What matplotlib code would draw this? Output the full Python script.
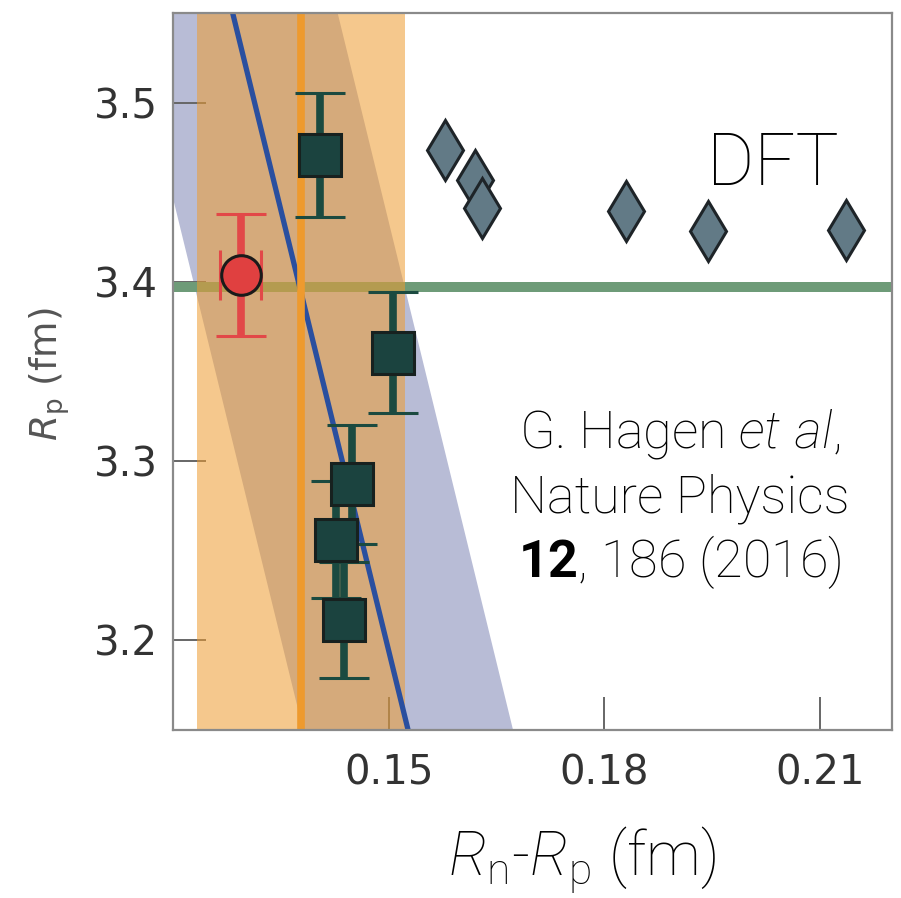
import numpy as np
import matplotlib
matplotlib.use("Agg")
import matplotlib.pyplot as plt

# experiment (red circle): Rn-Rp, Rp
exp_x = [0.1294]
exp_y = [3.404]
exp_xerr = [0.0028]
exp_yerr = [0.034]

# ab initio (dark squares)
cc_x = [0.1404, 0.1506, 0.1449, 0.1427, 0.1438]
cc_y = [3.4708, 3.3604, 3.2870, 3.2563, 3.2115]
cc_yerr = [0.0345, 0.0337, 0.0330, 0.0325, 0.0325]

# DFT (diamonds)
dft_x = [0.1578, 0.1620, 0.1630, 0.1830, 0.1944, 0.2136]
dft_y = [3.4736, 3.4569, 3.4411, 3.4396, 3.4284, 3.4290]

# bands / lines
rp_exp = 3.397
skin_center, skin_half = 0.1378, 0.0145
corr_x0, corr_y0, corr_slope, corr_half = 0.1527, 3.15, -0.061, 0.0146

xticks = [0.15, 0.18, 0.21]
yticks = [3.2, 3.3, 3.4, 3.5]

plt.rcParams['font.family'] = ['Liberation Sans Narrow', 'DejaVu Sans']
plt.rcParams['mathtext.fontset'] = 'custom'
plt.rcParams['mathtext.rm'] = 'Roboto:light'
plt.rcParams['mathtext.it'] = 'Roboto:italic:light'
plt.rcParams['mathtext.bf'] = 'Roboto:bold'

fig = plt.figure(figsize=(9.01, 8.98), dpi=100)
ax = fig.add_axes([0.192, 0.187, 0.798, 0.7985])

ys = np.linspace(3.0, 3.7, 50)
corr = corr_x0 + corr_slope * (ys - corr_y0)

# correlation band (lavender)
ax.fill_betweenx(ys, corr - corr_half, corr + corr_half, color='#b8bcd6', lw=0, zorder=1)
# experimental Rp (green)
ax.axhline(rp_exp, color='#6e9b78', lw=7.2, zorder=2)
# skin band (orange, translucent)
ax.axvspan(skin_center - skin_half, skin_center + skin_half, color='#ee9c30', alpha=0.55, lw=0, zorder=3)
# correlation line
ax.plot(corr, ys, color='#2a4f9f', lw=3.8, zorder=4)
# skin central value
ax.axvline(skin_center, color='#ee9a2e', lw=5.5, zorder=5)

# data
ax.errorbar(cc_x, cc_y, yerr=cc_yerr, fmt='s', ms=30, mfc='#1b433f', mec='#17211f', mew=2.2,
            ecolor='#1b4a40', elinewidth=5.5, capsize=18, capthick=3.0, zorder=6)
ax.errorbar(exp_x, exp_y, xerr=exp_xerr, yerr=exp_yerr, fmt='o', ms=28.5, mfc='#e04040', mec='#1a1a1a', mew=2.2,
            ecolor='#e24848', elinewidth=5.5, capsize=18, capthick=3.0, zorder=6)
ax.plot(dft_x, dft_y, 'd', ms=31, mfc='#627a86', mec='#1e2428', mew=2.2, zorder=6)

ax.set_xlim(0.12, 0.22)
ax.set_ylim(3.15, 3.55)
ax.set_xticks(xticks)
ax.set_yticks(yticks)
ax.set_xticklabels(['%.2f' % v for v in xticks])
ax.set_yticklabels(['%.1f' % v for v in yticks])
ax.tick_params(direction='in', length=24, width=1.4, color='#666666', labelsize=29, labelcolor='#333333')
ax.tick_params(axis='x', pad=17)
ax.tick_params(axis='y', pad=11)
for s in ax.spines.values():
    s.set_color('#8a8a8a')
    s.set_linewidth(1.6)
    s.set_zorder(7)

ax.text(0.743, 0.760, 'DFT', transform=ax.transAxes, fontsize=52, family='Roboto',
        weight='light', va='baseline', ha='left')

cite = ['G. Hagen $\\mathit{et\\ al}$,', 'Nature Physics', '$\\mathbf{12}$, 186 (2016)']
for i, line in enumerate(cite):
    fig.text(0.754, 0.502 - i * 0.0724, line, fontsize=37.5, family='Roboto', weight='light',
             ha='center', va='baseline')

fig.text(0.646, 0.024, '$R_\\mathrm{n}$-$R_\\mathrm{p}$ (fm)', fontsize=44, family='Roboto',
         weight='light', ha='center', va='baseline')
fig.text(0.0555, 0.5835, '$R_\\mathrm{p}$ (fm)', fontsize=27, color='#555555', rotation=90,
         ha='center', va='center', math_fontfamily='dejavusans')

fig.savefig('out.png', dpi=100)
